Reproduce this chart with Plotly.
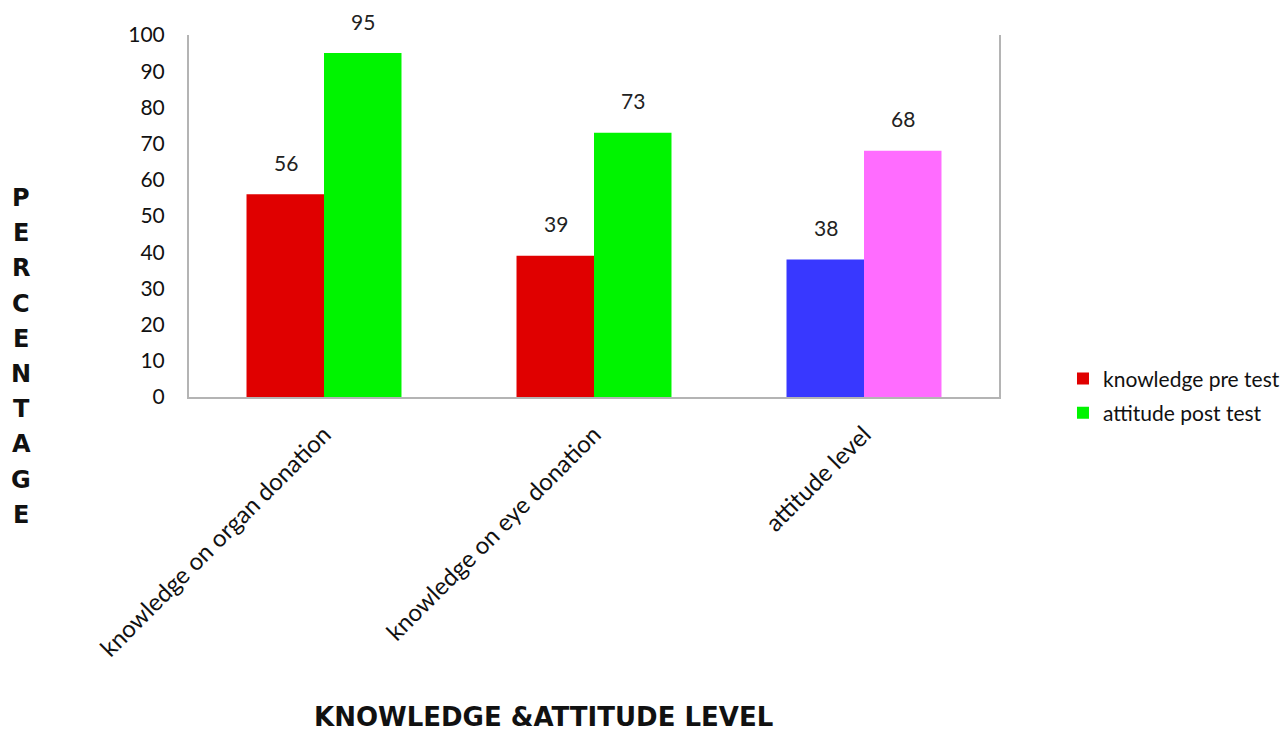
import plotly.graph_objects as go

categories = ["knowledge on organ donation", "knowledge on eye donation", "attitude level"]
pre_values = [56, 39, 38]
post_values = [95, 73, 68]
series_names = ["knowledge pre test", "attitude post test"]
pre_colors = ["#e00000", "#e00000", "#3838ff"]
post_colors = ["#00f400", "#00f400", "#ff6cff"]
y_title = "PERCENTAGE"
x_title = "KNOWLEDGE &ATTITUDE LEVEL"

font_main = "Lato, 'Open Sans', sans-serif"
font_bold = "'DejaVu Sans', Arial, sans-serif"

fig = go.Figure()
fig.add_trace(go.Bar(x=categories, y=pre_values, name=series_names[0], legendgroup="pre",
                     marker=dict(color=pre_colors, line=dict(width=0))))
fig.add_trace(go.Bar(x=categories, y=post_values, name=series_names[1], legendgroup="post",
                     marker=dict(color=post_colors, line=dict(width=0))))

# value labels floating above each bar
bar_shift = 38.5
for i, cat in enumerate(categories):
    for vals, xs in ((pre_values, -bar_shift), (post_values, bar_shift)):
        fig.add_annotation(x=cat, y=vals[i], xref="x", yref="y", text=str(vals[i]),
                           showarrow=False, xshift=xs, yshift=32, yanchor="middle",
                           font=dict(family=font_main, size=21, color="#222"))

# vertical stacked-letter axis title
for i, ch in enumerate(y_title):
    py = 198 + i * 35.2
    fig.add_annotation(x=-0.207, y=(397 - py) / 362, xref="paper", yref="paper",
                       text=f"<b>{ch}</b>", showarrow=False, xanchor="center", yanchor="middle",
                       font=dict(family=font_bold, size=24, color="#111"))

fig.add_annotation(x=(543 - 189) / 810, y=(397 - 717) / 362, xref="paper", yref="paper",
                   text=f"<b>{x_title}</b>", showarrow=False, xanchor="center", yanchor="middle",
                   font=dict(family=font_bold, size=26, color="#111"))

fig.update_layout(
    width=1287, height=733,
    margin=dict(l=189, r=288, t=35, b=336, autoexpand=False),
    paper_bgcolor="white", plot_bgcolor="white",
    barmode="group", bargap=0.426, bargroupgap=0,
    showlegend=True,
    legend=dict(x=1.079, y=0.003, xanchor="left", yanchor="middle",
                font=dict(family=font_main, size=21, color="#111"),
                traceorder="grouped", tracegroupgap=4, itemsizing="constant"),
    font=dict(family=font_main, color="#111"),
)
fig.update_xaxes(showline=True, linecolor="#b4b4b4", linewidth=2, mirror=False,
                 showgrid=False, ticks="", tickangle=-45, automargin=False,
                 tickfont=dict(family=font_main, size=24, color="#111"),
                 ticklabelstandoff=12)
fig.update_yaxes(range=[0, 100], dtick=10, showline=True, linecolor="#b4b4b4", linewidth=2,
                 mirror=True, showgrid=False, zeroline=False, ticks="", automargin=False,
                 tickfont=dict(family=font_main, size=21, color="#111"),
                 ticklabelstandoff=18)

fig.write_html("out.html")
